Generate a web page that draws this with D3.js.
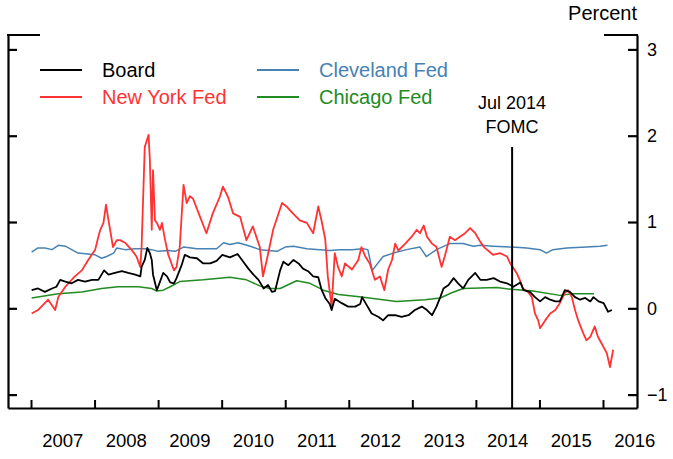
<!DOCTYPE html>
<html>
<head>
<meta charset="utf-8">
<script src="https://cdn.jsdelivr.net/npm/d3@7/dist/d3.min.js"></script>
<style>
  body { margin: 0; background: #fff; }
  svg { display: block; font-family: "Liberation Sans", Arial, sans-serif; }
</style>
</head>
<body>
<svg id="chart" width="673" height="459"></svg>
<script>
// series are [decimal year, percent]
const board = [
  [2007.01,0.21],[2007.11,0.23],[2007.22,0.19],[2007.33,0.23],[2007.40,0.25],[2007.46,0.33],
  [2007.54,0.31],[2007.64,0.29],[2007.74,0.33],[2007.85,0.31],[2007.96,0.33],[2008.06,0.33],
  [2008.15,0.44],[2008.22,0.39],[2008.32,0.41],[2008.43,0.43],[2008.53,0.41],[2008.64,0.39],
  [2008.72,0.37],[2008.74,0.48],[2008.79,0.56],[2008.83,0.70],[2008.87,0.64],[2008.90,0.56],
  [2008.92,0.39],[2008.98,0.21],[2009.03,0.31],[2009.08,0.41],[2009.14,0.37],[2009.19,0.30],
  [2009.25,0.29],[2009.29,0.35],[2009.37,0.50],[2009.42,0.62],[2009.50,0.59],[2009.61,0.58],
  [2009.71,0.52],[2009.82,0.52],[2009.92,0.55],[2010.01,0.62],[2010.13,0.59],[2010.25,0.63],
  [2010.34,0.54],[2010.42,0.46],[2010.50,0.39],[2010.58,0.33],[2010.66,0.23],[2010.73,0.27],
  [2010.79,0.19],[2010.84,0.20],[2010.92,0.44],[2010.97,0.54],[2011.05,0.50],[2011.13,0.56],
  [2011.21,0.52],[2011.28,0.46],[2011.36,0.43],[2011.44,0.37],[2011.52,0.36],[2011.57,0.22],
  [2011.63,0.12],[2011.70,0.05],[2011.73,-0.02],[2011.78,0.11],[2011.89,0.06],[2011.99,0.02],
  [2012.10,0.02],[2012.18,0.05],[2012.21,0.13],[2012.28,0.04],[2012.36,-0.06],[2012.47,-0.10],
  [2012.54,-0.14],[2012.62,-0.08],[2012.73,-0.08],[2012.83,-0.10],[2012.94,-0.08],[2013.04,-0.02],
  [2013.15,0.02],[2013.23,-0.02],[2013.31,-0.08],[2013.38,0.02],[2013.44,0.13],[2013.49,0.23],
  [2013.57,0.27],[2013.65,0.35],[2013.72,0.29],[2013.80,0.23],[2013.88,0.33],[2013.99,0.41],
  [2014.07,0.33],[2014.17,0.33],[2014.28,0.35],[2014.38,0.31],[2014.49,0.29],[2014.59,0.25],
  [2014.70,0.30],[2014.75,0.21],[2014.85,0.19],[2014.93,0.13],[2015.01,0.08],[2015.09,0.13],
  [2015.17,0.10],[2015.25,0.08],[2015.32,0.08],[2015.40,0.21],[2015.48,0.19],[2015.56,0.13],
  [2015.64,0.10],[2015.72,0.12],[2015.80,0.08],[2015.85,0.13],[2015.93,0.08],[2016.01,0.06],
  [2016.08,-0.04],[2016.14,-0.02]
];

const newYork = [
  [2007.01,-0.06],[2007.11,-0.02],[2007.27,0.10],[2007.38,-0.02],[2007.43,0.13],[2007.54,0.25],
  [2007.69,0.37],[2007.80,0.44],[2007.90,0.56],[2008.01,0.68],[2008.06,0.83],[2008.09,0.91],
  [2008.14,0.99],[2008.18,1.20],[2008.22,1.02],[2008.29,0.71],[2008.35,0.79],[2008.40,0.79],
  [2008.48,0.76],[2008.58,0.68],[2008.66,0.60],[2008.72,0.48],[2008.74,0.71],[2008.79,1.87],
  [2008.85,2.01],[2008.87,1.72],[2008.90,0.91],[2008.92,1.60],[2008.95,1.02],[2008.98,0.99],
  [2009.03,0.91],[2009.06,0.99],[2009.11,0.79],[2009.16,0.62],[2009.21,0.52],[2009.25,0.44],
  [2009.29,0.48],[2009.34,0.71],[2009.40,1.43],[2009.45,1.22],[2009.50,1.30],[2009.55,1.27],
  [2009.66,1.06],[2009.76,0.87],[2009.86,1.10],[2009.97,1.29],[2010.02,1.41],[2010.10,1.29],
  [2010.18,1.10],[2010.29,1.06],[2010.39,0.79],[2010.49,0.95],[2010.60,0.71],[2010.65,0.37],
  [2010.71,0.56],[2010.81,0.91],[2010.95,1.22],[2011.02,1.18],[2011.12,1.10],[2011.23,1.02],
  [2011.34,0.99],[2011.44,0.87],[2011.52,1.18],[2011.57,1.02],[2011.63,0.80],[2011.67,0.37],
  [2011.73,0.02],[2011.78,0.64],[2011.83,0.48],[2011.89,0.37],[2011.94,0.52],[2012.05,0.45],
  [2012.15,0.56],[2012.20,0.71],[2012.26,0.60],[2012.33,0.52],[2012.41,0.33],[2012.49,0.37],
  [2012.56,0.21],[2012.62,0.45],[2012.68,0.56],[2012.73,0.75],[2012.78,0.67],[2012.89,0.75],
  [2012.99,0.83],[2013.07,0.91],[2013.12,0.87],[2013.18,0.96],[2013.23,0.83],[2013.31,0.75],
  [2013.38,0.71],[2013.46,0.48],[2013.51,0.60],[2013.59,0.83],[2013.67,0.79],[2013.75,0.83],
  [2013.83,0.87],[2013.91,0.93],[2013.99,0.87],[2014.07,0.77],[2014.14,0.70],[2014.27,0.62],
  [2014.38,0.64],[2014.49,0.60],[2014.54,0.52],[2014.58,0.48],[2014.64,0.41],[2014.69,0.33],
  [2014.74,0.23],[2014.82,0.19],[2014.88,0.13],[2014.93,-0.06],[2014.98,-0.14],[2015.01,-0.23],
  [2015.09,-0.14],[2015.17,-0.06],[2015.25,-0.02],[2015.32,0.06],[2015.40,0.18],[2015.45,0.21],
  [2015.51,0.13],[2015.56,-0.02],[2015.61,-0.14],[2015.69,-0.29],[2015.74,-0.37],[2015.80,-0.33],
  [2015.87,-0.21],[2015.92,-0.33],[2015.98,-0.41],[2016.06,-0.52],[2016.11,-0.68],[2016.16,-0.48]
];

const cleveland = [
  [2007.01,0.65],[2007.11,0.70],[2007.22,0.70],[2007.33,0.68],[2007.43,0.73],[2007.54,0.72],
  [2007.64,0.68],[2007.74,0.64],[2007.90,0.63],[2008.01,0.62],[2008.11,0.58],[2008.19,0.60],
  [2008.30,0.64],[2008.35,0.70],[2008.48,0.68],[2008.64,0.69],[2008.79,0.69],[2008.90,0.68],
  [2009.00,0.66],[2009.16,0.67],[2009.27,0.66],[2009.40,0.71],[2009.61,0.69],[2009.92,0.69],
  [2010.03,0.76],[2010.13,0.74],[2010.26,0.76],[2010.45,0.72],[2010.60,0.68],[2010.87,0.66],
  [2011.00,0.71],[2011.13,0.72],[2011.34,0.69],[2011.70,0.67],[2011.86,0.68],[2012.05,0.68],
  [2012.22,0.69],[2012.30,0.68],[2012.37,0.44],[2012.54,0.60],[2012.70,0.64],[2012.91,0.68],
  [2013.12,0.71],[2013.22,0.60],[2013.38,0.68],[2013.59,0.75],[2013.80,0.75],[2013.96,0.72],
  [2014.07,0.73],[2014.27,0.72],[2014.56,0.71],[2014.80,0.70],[2015.01,0.68],[2015.11,0.64],
  [2015.21,0.68],[2015.43,0.70],[2015.74,0.71],[2015.95,0.72],[2016.07,0.73]
];

const chicago = [
  [2007.01,0.12],[2007.43,0.17],[2007.80,0.19],[2008.11,0.23],[2008.37,0.25],[2008.69,0.25],
  [2008.90,0.23],[2008.98,0.20],[2009.08,0.21],[2009.19,0.25],[2009.34,0.31],[2009.71,0.33],
  [2010.13,0.36],[2010.39,0.33],[2010.60,0.26],[2010.76,0.23],[2010.92,0.23],[2011.18,0.32],
  [2011.39,0.29],[2011.60,0.21],[2011.84,0.16],[2012.20,0.13],[2012.75,0.08],[2013.20,0.10],
  [2013.44,0.12],[2013.62,0.18],[2013.80,0.23],[2014.33,0.24],[2014.56,0.22],[2014.90,0.20],
  [2015.32,0.15],[2015.53,0.17],[2015.86,0.17]
];

const years = [2007, 2008, 2009, 2010, 2011, 2012, 2013, 2014, 2015, 2016];
const yTicks = [-1, 0, 1, 2, 3];
const fomcDate = 2014.57;
const fomcLabel = ["Jul 2014", "FOMC"];

const seriesNames = ["Board", "New York Fed", "Cleveland Fed", "Chicago Fed"];
const seriesColors = ["#000000", "#ff3333", "#4682b4", "#228b22"];
const seriesWidths = [1.8, 1.8, 1.5, 1.5];
const seriesData = [board, newYork, cleveland, chicago];

const svg = d3.select("#chart");

const plotLeft = 8, plotRight = 637, plotTop = 35, plotBottom = 408;

const x = d3.scaleLinear()
  .domain([2007 - 23 / 63.55, 2016 + 34 / 63.55])
  .range([plotLeft, plotRight]);

const y = d3.scaleLinear()
  .domain([-1.155, 3.167])
  .range([plotBottom, plotTop]);

// data lines, drawn first so the frame sits on top
const line = d3.line()
  .x(d => x(d[0]))
  .y(d => y(d[1]));

const drawOrder = [2, 3, 1, 0];
drawOrder.forEach(i => {
  svg.append("path")
    .datum(seriesData[i])
    .attr("fill", "none")
    .attr("stroke", seriesColors[i])
    .attr("stroke-width", seriesWidths[i])
    .attr("stroke-linejoin", "round")
    .attr("d", line);
});

// bottom axis with inward ticks
const xAxis = svg.append("g")
  .attr("transform", `translate(0,${plotBottom})`)
  .call(d3.axisBottom(x).tickValues(years).tickSize(-8).tickSizeOuter(0).tickFormat(""));
xAxis.select(".domain").attr("stroke-width", 2.2);
xAxis.selectAll(".tick line").attr("stroke-width", 2);

svg.selectAll(".year")
  .data(years)
  .enter()
  .append("text")
  .attr("class", "year")
  .attr("x", d => x(d + 0.5))
  .attr("y", 447)
  .attr("text-anchor", "middle")
  .attr("font-size", 18.5)
  .text(d => d);

// left axis, no labels
const yLeft = svg.append("g")
  .attr("transform", `translate(${plotLeft},0)`)
  .call(d3.axisLeft(y).tickValues(yTicks).tickSize(-9).tickSizeOuter(0).tickFormat(""));
yLeft.select(".domain").attr("stroke-width", 2.2);
yLeft.selectAll(".tick line").attr("stroke-width", 2.2);

// right axis with labels
const yRight = svg.append("g")
  .attr("transform", `translate(${plotRight},0)`)
  .call(d3.axisRight(y).tickValues(yTicks).tickSize(-9).tickSizeOuter(0)
    .tickPadding(10).tickFormat(d3.format("d")));
yRight.select(".domain").attr("stroke-width", 2.2);
yRight.selectAll(".tick line").attr("stroke-width", 2.2);
yRight.selectAll(".tick text")
  .attr("font-size", 18)
  .attr("font-family", "'Liberation Sans', Arial, sans-serif")
  .attr("fill", "#000");

// short top corners
svg.append("line").attr("x1", plotLeft - 1).attr("x2", 40).attr("y1", plotTop).attr("y2", plotTop)
  .attr("stroke", "#000").attr("stroke-width", 2.2);
svg.append("line").attr("x1", 604).attr("x2", plotRight + 1).attr("y1", plotTop).attr("y2", plotTop)
  .attr("stroke", "#000").attr("stroke-width", 2.2);

svg.append("text")
  .attr("x", plotRight)
  .attr("y", 20)
  .attr("text-anchor", "end")
  .attr("font-size", 20)
  .text("Percent");

// FOMC marker
svg.append("line")
  .attr("x1", x(fomcDate)).attr("x2", x(fomcDate))
  .attr("y1", 147).attr("y2", plotBottom)
  .attr("stroke", "#000").attr("stroke-width", 2);

svg.selectAll(".fomc")
  .data(fomcLabel)
  .enter()
  .append("text")
  .attr("class", "fomc")
  .attr("x", x(fomcDate))
  .attr("y", (d, i) => 109 + i * 24)
  .attr("text-anchor", "middle")
  .attr("font-size", 18)
  .text(d => d);

// legend
const legendPos = [[40, 70], [40, 97], [257, 70], [257, 97]];
seriesNames.forEach((name, i) => {
  const [lx, ly] = legendPos[i];
  svg.append("line")
    .attr("x1", lx).attr("x2", lx + 42)
    .attr("y1", ly).attr("y2", ly)
    .attr("stroke", seriesColors[i])
    .attr("stroke-width", 2);
  svg.append("text")
    .attr("x", lx + 62)
    .attr("y", ly + 7)
    .attr("font-size", 20)
    .attr("fill", seriesColors[i])
    .text(name);
});
</script>
</body>
</html>
